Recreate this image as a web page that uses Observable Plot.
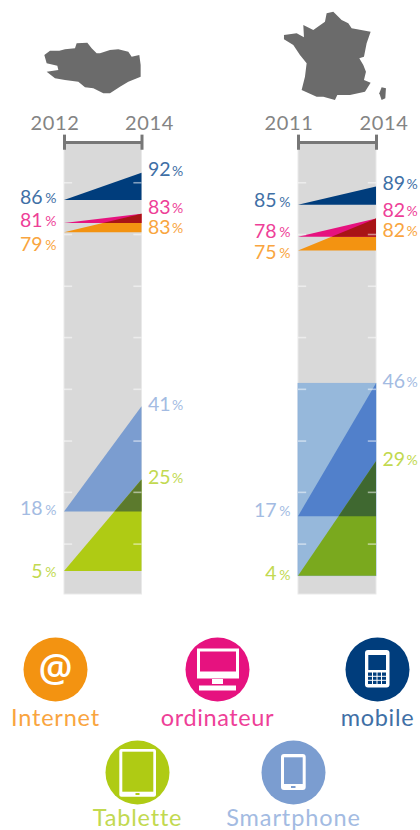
<!DOCTYPE html>
<html><head><meta charset="utf-8">
<script src="https://cdn.jsdelivr.net/npm/d3@7"></script>
<script src="https://cdn.jsdelivr.net/npm/@observablehq/plot@0.6"></script>
<style>
html,body{margin:0;padding:0;background:#fff;}
#page{position:relative;width:420px;height:830px;overflow:hidden;}
#page>svg,#page>div{position:absolute;}
#page svg{overflow:visible}
</style></head><body><div id="page"></div>
<script>
// ---------- data ----------
const seriesNames = ["mobile","ordinateur","Internet","Smartphone","Tablette"];
const bretagneYears = [2012, 2014];
const bretagneStart = [86, 81, 79, 18, 5];
const bretagneEnd   = [92, 83, 83, 41, 25];
const franceYears = [2011, 2014];
const franceStart = [85, 78, 75, 17, 4];
const franceEnd   = [89, 82, 82, 46, 29];
const tickValues = [11, 22.3, 33.5, 44.8, 56.1, 67.3, 78.6, 89.9];
const legendNames = ["Internet","ordinateur","mobile","Tablette","Smartphone"];

// ---------- styles ----------
const fills = {mobile:"#003d7c", ordinateur:"#e6127f", Internet:"#f39311", Smartphone:"#7b9dd0", Tablette:"#afcb14"};
const inks  = {mobile:"#3f70a6", ordinateur:"#ee3f98", Internet:"#f9a540", Smartphone:"#a3bbe2", Tablette:"#c2d950"};
const font = "Lato, 'Open Sans', sans-serif";
const page = document.getElementById("page");

function labels(rows,y0,y1){
  // placed through the scales, nudged in pixels with per-row offsets
  const out=[];
  for(const d of rows){
    const c={fontFamily:font,fontWeight:400,fill:inks[d.name]};
    out.push(Plot.text([d],{x:y0,y:"a",text:r=>String(r.a),dx:-22,dy:d.dyL,fontSize:19.5,textAnchor:"end",...c}));
    out.push(Plot.text([d],{x:y0,y:"a",text:()=>"%",dx:-8,dy:d.dyL+1,fontSize:14,textAnchor:"end",...c}));
    out.push(Plot.text([d],{x:y1,y:"b",text:r=>String(r.b),dx:6,dy:d.dyR,fontSize:19.5,textAnchor:"start",...c}));
    out.push(Plot.text([d],{x:y1,y:"b",text:()=>"%",dx:30,dy:d.dyR+1,fontSize:14,textAnchor:"start",...c}));
  }
  return out;
}

function draw(o){
  const [y0,y1] = o.years;
  const rows = seriesNames.map((name,i)=>({name, a:o.start[i], b:o.end[i], dyL:o.dyL[i], dyR:o.dyR[i]}));
  const triMark = (d,fill) => Plot.areaY([{x:y0,lo:d.a,hi:d.a},{x:y1,lo:d.a,hi:d.b}],{x:"x",y1:"lo",y2:"hi",fill});
  // overlap of a lower triangle climbing into the base of an upper one
  const overlap = (low,up,fill) => {
    const t = (up.a-low.a)/(low.b-low.a);
    return Plot.areaY([{x:y0+t*(y1-y0),lo:up.a,hi:up.a},{x:y1,lo:up.a,hi:low.b}],{x:"x",y1:"lo",y2:"hi",fill});
  };
  const [mob,ord,net,sma,tab] = rows;
  const inset = (y1-y0)*0.105;
  const svg = Plot.plot({
    width:o.width, height:610, margin:0,
    x:{domain:o.years, range:o.xRange, axis:null},
    y:{domain:[0,100], range:[594,136], axis:null},
    style:{background:"transparent",overflow:"visible"},
    marks:[
      Plot.rectY([0],{x1:y0,x2:y1,y1:0,y2:98.5,fill:"#d9d9d9",stroke:"#e9e9e9",strokeWidth:1}),
      ...(o.wash ? [Plot.rectY([0],{x1:y0,x2:y1,y1:tab.a,y2:sma.b,fill:o.wash,stroke:"#8fb3dc",strokeWidth:0.8})] : []),
      triMark(mob,fills.mobile),
      triMark(net,fills.Internet),
      triMark(ord,fills.ordinateur),
      overlap(net,ord,"#a81416"),
      triMark(sma,o.smaFill),
      triMark(tab,o.tabFill),
      overlap(tab,sma,o.overlapFill),
      Plot.ruleY(tickValues,{x1:y0,x2:y0+inset,stroke:"#fff",strokeOpacity:0.5,strokeWidth:1.6}),
      Plot.ruleY(tickValues,{x1:y1-inset,x2:y1,stroke:"#fff",strokeOpacity:0.5,strokeWidth:1.6}),
      Plot.ruleY([98.7],{x1:y0,x2:y1,stroke:"#777",strokeWidth:3}),
      Plot.ruleX(o.years,{y1:97,y2:100.3,stroke:"#777",strokeWidth:3}),
      Plot.text([y0],{x:d=>d,y:100.3,text:d=>String(d),dx:-9.5,dy:-12,fontSize:20,fill:"#848484",fontFamily:font}),
      Plot.text([y1],{x:d=>d,y:100.3,text:d=>String(d),dx:7.5,dy:-12,fontSize:20,fill:"#848484",fontFamily:font}),
      ...labels(rows,y0,y1)
    ]
  });
  svg.style.left=o.left+"px"; svg.style.top="0px";
  svg.querySelectorAll("text").forEach(t=>{ if(t.textContent.length===4) t.style.letterSpacing="0.6px"; });
  page.appendChild(svg);
}

draw({years:bretagneYears,start:bretagneStart,end:bretagneEnd,left:0,width:210,xRange:[64,141.5],
  dyL:[-3,-3,12,-3,0], dyR:[-3,-7,13,-2,-2],
  smaFill:fills.Smartphone, tabFill:fills.Tablette, overlapFill:"#5c7a2d"});
draw({years:franceYears,start:franceStart,end:franceEnd,left:210,width:210,xRange:[88,166],
  dyL:[-4,-6,2,-6,-2], dyR:[-3,-8,12,-2,-2],
  wash:"#96b8db", smaFill:"#5180cb", tabFill:"#7aa91e", overlapFill:"#3f6830"});

// ---------- legend ----------
const legendX = [55,217,377,137,293];
const legendY = [669,669,669,772,772];
const legendBase = [725,725,725,825,825];
const legendSpacing = [0.8,0.6,0.7,0.8,0.9];
const legendRows = legendNames.map((name,i)=>({name,x:legendX[i],y:legendY[i],base:legendBase[i]}));
const legend = Plot.plot({
  width:420,height:830,margin:0,
  x:{type:"identity",axis:null},y:{type:"identity",axis:null},
  style:{background:"transparent",overflow:"visible"},
  marks:[
    Plot.dot(legendRows,{x:"x",y:"y",r:32,fill:d=>fills[d.name]}),
    Plot.text(["@"],{x:55,y:668,text:d=>d,fontSize:38,fontWeight:600,fill:"#fff",fontFamily:"'Open Sans',sans-serif"}),
    ...legendRows.map(d=>Plot.text([d],{x:"x",y:"base",text:"name",fontSize:23.5,fontFamily:font,fontWeight:400,fill:inks[d.name],lineAnchor:"bottom"}))
  ]
});
legend.querySelectorAll("text").forEach(t=>{
  const i = legendNames.indexOf(t.textContent);
  if(i>=0) t.style.letterSpacing = legendSpacing[i]+"px";
});
legend.style.left="0";legend.style.top="0";
page.appendChild(legend);

// ---------- decorative silhouettes and device icons ----------
const deco = `
<svg xmlns="http://www.w3.org/2000/svg" width="420" height="830" style="left:0;top:0;position:absolute">
<g fill="#6b6b6b" transform="scale(.3333)">
<path d="M133 165 150 152 178 152 195 148 225 145 230 130 262 128 275 145 290 160 300 160 330 150 355 148 385 155 395 170 418 165 422 195 422 230 385 245 360 260 330 280 310 280 280 265 255 262 235 245 195 240 165 235 140 215 175 210 172 197 140 190Z"/>
<g transform="translate(630 0)">
<path d="M350 40 370 35 395 60 415 70 425 85 482 95 470 130 462 170 448 175 460 195 468 215 462 240 482 248 465 275 420 285 382 285 375 300 340 290 320 290 275 270 285 230 290 190 270 165 250 135 222 118 222 105 260 100 282 112 280 75 310 90 345 65Z"/>
<path d="M515 262 528 265 526 295 515 300 508 280Z"/>
</g></g>
<g fill="#fff">
<path fill-rule="evenodd" d="M197 648.5h42v30h-42zM200 651.5v20h36v-20z"/>
<rect x="212" y="679" width="11" height="5"/>
<rect x="199" y="685.5" width="37" height="5"/>
<rect x="365" y="650" width="24.5" height="37.5" rx="3"/>
<rect x="368.3" y="655" width="17.7" height="15" fill="#003d7c"/>
<rect x="368" y="672.5" width="18" height="11.5" fill="#003d7c"/>
<path stroke="#fff" stroke-width="1" d="M372.5 672v12M377 672v12M381.5 672v12M368 676.3h18M368 680.3h18"/>
<rect x="119.3" y="749" width="36.7" height="47.7" rx="2"/>
<rect x="122.3" y="751.7" width="31" height="40" fill="#afcb14"/>
<rect x="135.5" y="793" width="4" height="2" fill="#afcb14"/>
<rect x="281" y="754" width="24.7" height="36" rx="3"/>
<rect x="284" y="757.3" width="18.7" height="26.7" fill="#7b9dd0"/>
<rect x="291" y="786" width="4.5" height="2" fill="#7b9dd0"/>
</g></svg>`;
const host=document.createElement("div");host.style.cssText="left:0;top:0";host.innerHTML=deco;page.appendChild(host);
</script></body></html>
